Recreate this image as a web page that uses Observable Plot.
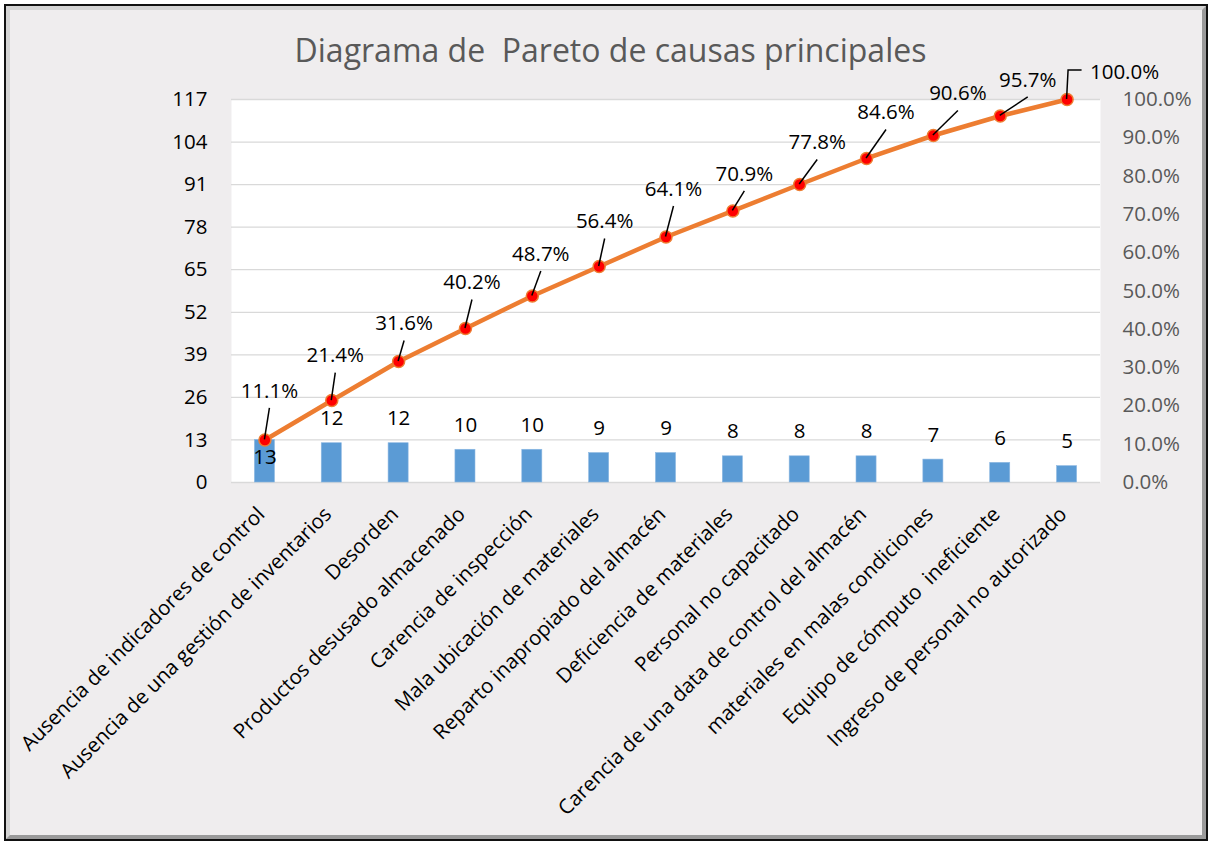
<!DOCTYPE html>
<html><head><meta charset="utf-8">
<script src="https://cdn.jsdelivr.net/npm/d3@7"></script>
<script src="https://cdn.jsdelivr.net/npm/@observablehq/plot@0.6"></script>
<style>
html,body{margin:0;padding:0;background:#fff;}
#wrap{position:relative;width:1209px;height:841px;overflow:hidden;font-family:"Open Sans",sans-serif;}
#frame{position:absolute;left:4px;top:4px;width:1204px;height:837px;box-sizing:border-box;border:2px solid #111;}
#panel{position:absolute;left:0;top:0;right:0;bottom:0;box-sizing:border-box;border:4px solid;border-color:#d4d4d4 #9a9a9a #9a9a9a #d4d4d4;background:#efedee;}
#title{position:absolute;left:6px;width:1209px;top:34px;line-height:32px;text-align:center;font-size:32px;color:#595959;white-space:pre;}
#chart{position:absolute;left:0;top:0;}
</style>
</head><body>
<div id="wrap">
  <div id="frame"><div id="panel"></div></div>
  <div id="title">Diagrama de  Pareto de causas principales</div>
  <div id="chart"></div>
</div>
<script>
const categories = [
  "Ausencia de indicadores de control",
  "Ausencia de una gestión de inventarios",
  "Desorden",
  "Productos desusado almacenado",
  "Carencia de inspección",
  "Mala ubicación de materiales",
  "Reparto inapropiado del almacén",
  "Deficiencia de materiales",
  "Personal no capacitado",
  "Carencia de una data de control del almacén",
  "materiales en malas condiciones",
  "Equipo de cómputo  ineficiente",
  "Ingreso de personal no autorizado"
];
const counts = [13, 12, 12, 10, 10, 9, 9, 8, 8, 8, 7, 6, 5];
const cumulativePct = [11.1, 21.4, 31.6, 40.2, 48.7, 56.4, 64.1, 70.9, 77.8, 84.6, 90.6, 95.7, 100.0];
const leftTicks = [0, 13, 26, 39, 52, 65, 78, 91, 104, 117];
const rightTicks = [0, 10, 20, 30, 40, 50, 60, 70, 80, 90, 100];

// label nudges (pixels) for the percentage data labels, as placed in the original
const pctNudge = [[5,-49],[4,-45],[6,-38],[7,-46],[9,-42],[6,-45],[8,-48],[12,-37],[18,-42],[20,-46],[25,-42],[28,-36],[58,-27]];

const total = d3.sum(counts);
const rows = categories.map((c, i) => ({cat: c, count: counts[i], pct: cumulativePct[i]}));
const yPct = d => d.pct * total / 100;
const FS = 20.5;

const leaders = (index, scales) => {
  const {x, y} = scales;
  const bw = x.bandwidth ? x.bandwidth() / 2 : 0;
  const g = d3.create("svg:g");
  rows.forEach((d, i) => {
    const px = x(d.cat) + bw, py = y(yPct(d));
    const lx = px + pctNudge[i][0], ly = py + pctNudge[i][1];
    const last = i === rows.length - 1;
    const p = last
      ? `M${px},${py}L${px + 1.5},${ly - 2}L${px + 15},${ly - 2}`
      : `M${px},${py}L${lx},${ly + 17.5}`;
    g.append("path").attr("d", p).attr("fill", "none").attr("stroke", "#000").attr("stroke-width", 1.5);
    g.append("text").attr("x", lx).attr("y", ly).attr("dy", "0.35em")
      .attr("text-anchor", "middle").attr("fill", "#000").attr("font-size", FS)
      .text(d.pct.toFixed(1) + "%");
  });
  return g.node();
};

const chart = Plot.plot({
  width: 1209,
  height: 841,
  marginLeft: 231,
  marginRight: 109,
  marginTop: 99,
  marginBottom: 359,
  style: {background: "transparent", fontFamily: "'Open Sans', sans-serif", fontSize: FS + "px", overflow: "visible"},
  x: {domain: categories, paddingInner: 0.7, paddingOuter: 0.35, round: false, axis: null},
  y: {domain: [0, total], axis: null},
  marks: [
    Plot.frame({fill: "white", stroke: "none"}),
    Plot.ruleY(leftTicks, {y: d => d, stroke: "#D9D9D9", strokeWidth: 1.3}),
    Plot.barY(rows, {x: "cat", y: "count", fill: "#5B9BD5", stroke: "#8DB8E2", strokeWidth: 0.6}),
    Plot.text(rows, {filter: (d, i) => i > 0, x: "cat", y: "count", text: d => String(d.count), dy: -24.5, fill: "#000", fontSize: FS}),
    Plot.text(rows, {filter: (d, i) => i === 0, x: "cat", y: "count", text: d => String(d.count), dy: 17, fill: "#000", fontSize: FS}),
    Plot.line(rows, {x: "cat", y: yPct, stroke: "#ED7D31", strokeWidth: 4.5, strokeLinejoin: "round"}),
    Plot.dot(rows, {x: "cat", y: yPct, r: 6, fill: "#FF0000", stroke: "#ED7D31", strokeWidth: 1.5}),
    leaders,
    Plot.text(leftTicks, {y: d => d, text: d => String(d), frameAnchor: "left", textAnchor: "end", dx: -24, fill: "#000", fontSize: FS}),
    Plot.text(rightTicks, {y: d => d * total / 100, text: d => d.toFixed(1) + "%", frameAnchor: "right", textAnchor: "start", dx: 22, fill: "#595959", fontSize: FS}),
    Plot.text(categories, {x: d => d, text: d => d, frameAnchor: "bottom", rotate: -45, textAnchor: "end", dx: 1, dy: 33, fill: "#000", fontSize: FS})
  ]
});
document.getElementById("chart").appendChild(chart);
</script>
</body></html>
